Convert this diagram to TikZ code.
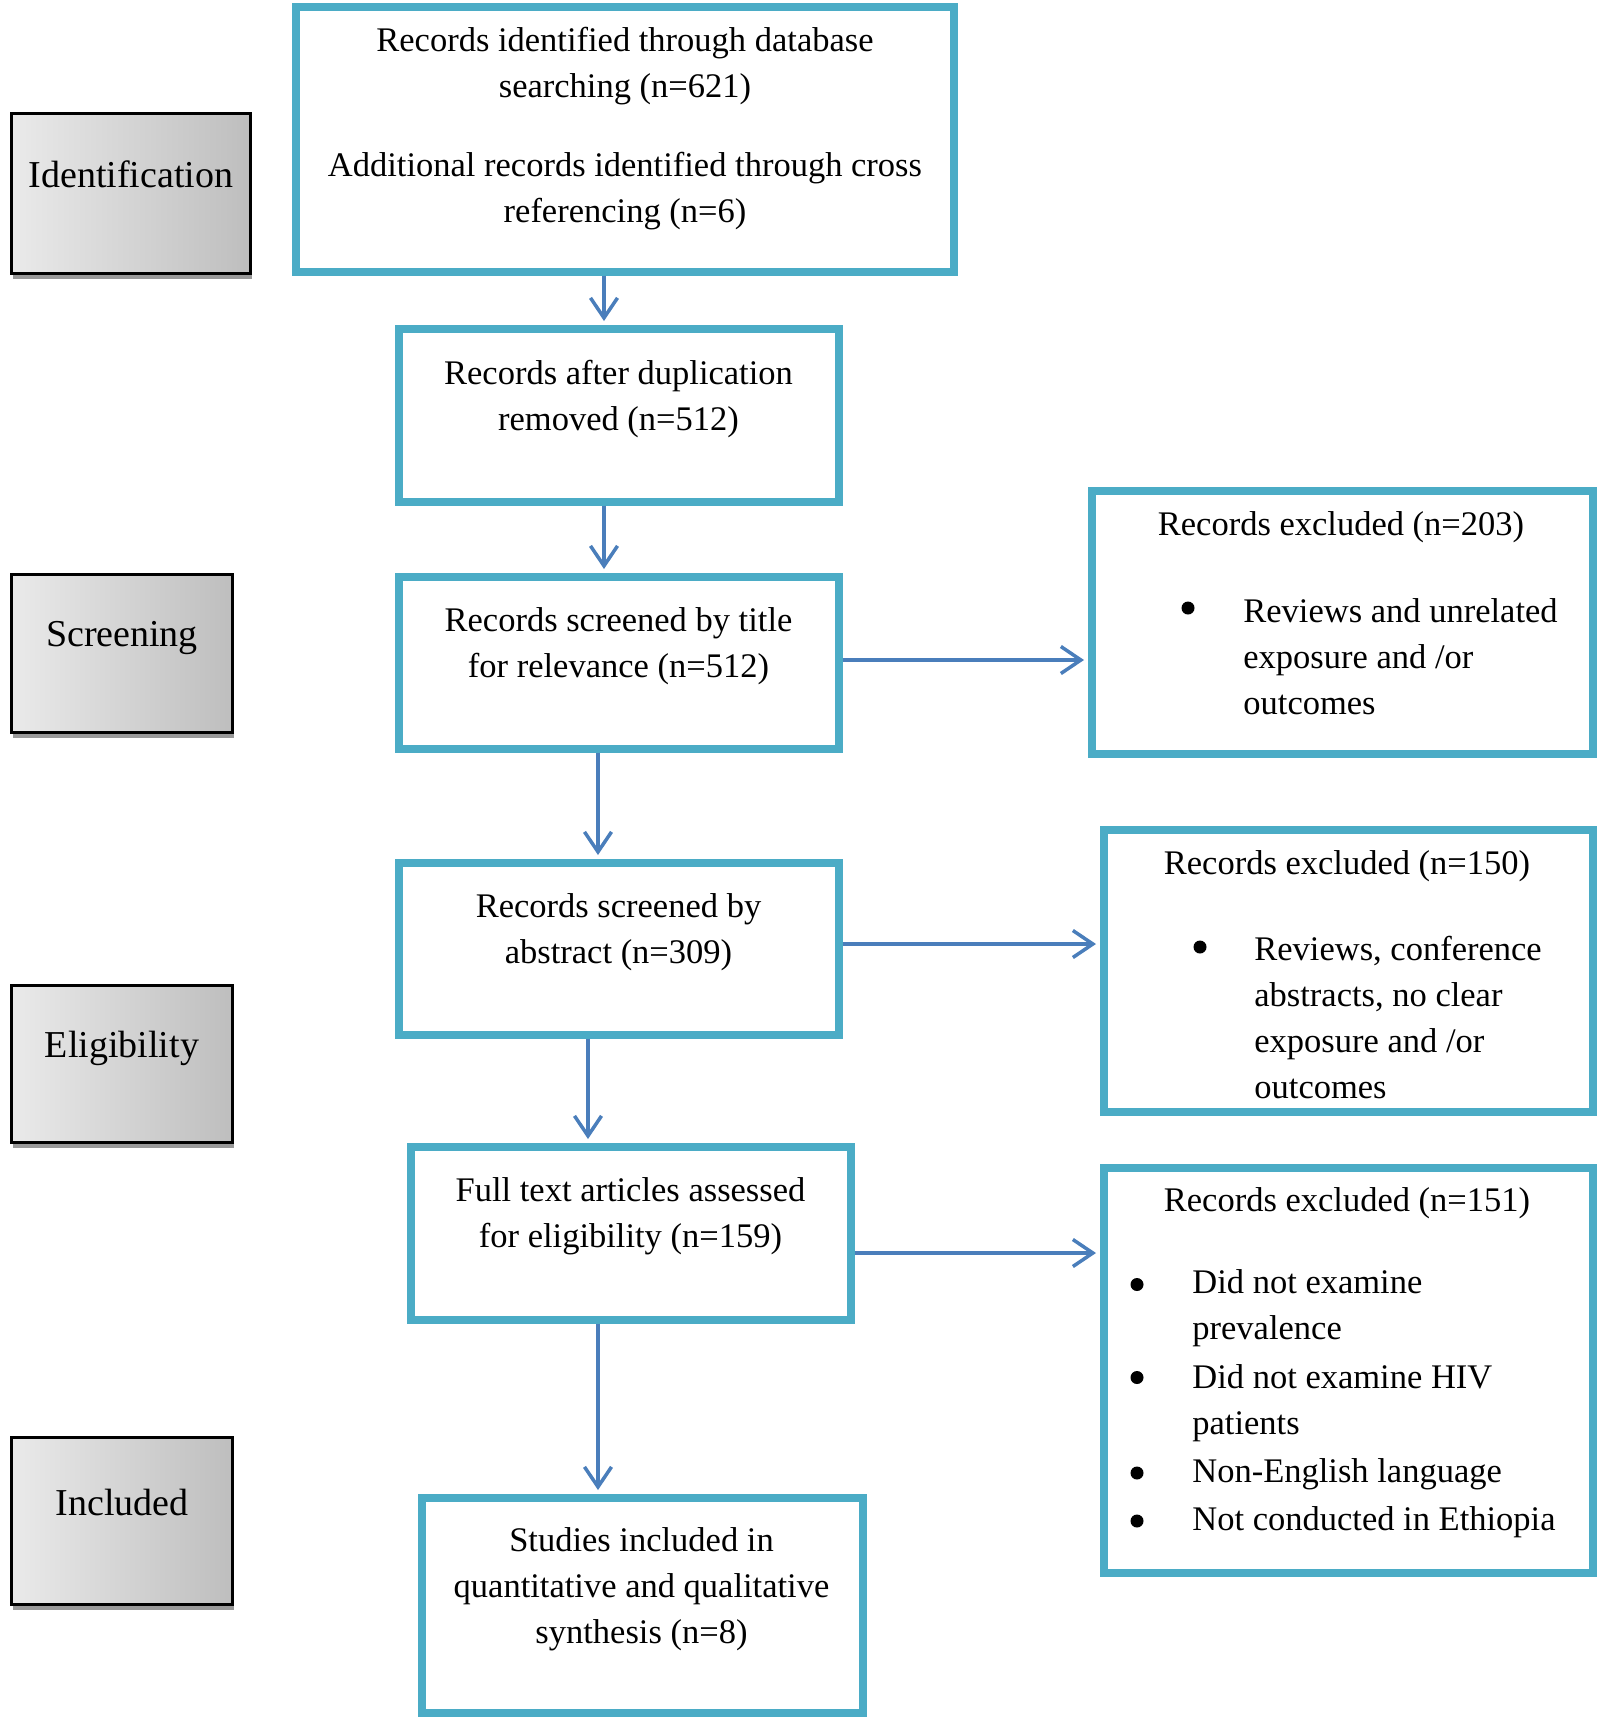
\documentclass[tikz,border=0pt]{standalone}
\usepackage{fontspec}
\setmainfont{Liberation Serif}
\usetikzlibrary{arrows.meta,shadows}
\definecolor{boxc}{RGB}{75,172,198}
\definecolor{arrc}{RGB}{74,126,187}
\definecolor{stageL}{RGB}{234,234,234}
\definecolor{stageR}{RGB}{190,190,190}
\begin{document}
\begin{tikzpicture}[x=0.5pt,y=-0.5pt,
  mainbox/.style={draw=boxc,line width=4pt,rectangle,inner sep=0pt,fill=white},
  stage/.style={draw=black,line width=1.5pt,rectangle,inner sep=0pt,
    left color=stageL,right color=stageR,
    drop shadow={shadow xshift=0.5pt,shadow yshift=-2.5pt,fill=black!40,opacity=1}},
  txt/.style={font=\fontsize{17.25}{23}\selectfont,align=center,inner sep=0pt},
  ltxt/.style={font=\fontsize{17.25}{23}\selectfont,align=left,inner sep=0pt,anchor=west},
  stxt/.style={font=\fontsize{19}{23}\selectfont,inner sep=0pt},
  bul/.style={circle,fill=black,inner sep=0pt,minimum size=6.5pt},
  arr/.style={draw=arrc,line width=1.75pt,-{Straight Barb[length=10pt,width=13.5pt]},shorten >=1.75pt}
]
\useasboundingbox (0,0) rectangle (1598,1720);

% stage boxes
\node[stage,minimum width=119.5pt,minimum height=80pt] (sid) at (131,193.5) {};
\node[stage,minimum width=110.5pt,minimum height=79pt] (ssc) at (122,653.5) {};
\node[stage,minimum width=110.5pt,minimum height=78.5pt] (sel) at (122,1064) {};
\node[stage,minimum width=110.5pt,minimum height=83.5pt] (sin) at (122,1521) {};
\node[stxt] (tid) at (131,174) {Identification};
\node[stxt] (tsc) at (122,638.5) {Screening};
\node[stxt] (tel) at (122,1048.5) {Eligibility};
\node[stxt] (tin) at (122,1502.5) {Included};

% main boxes
\node[mainbox,minimum width=329pt,minimum height=132.5pt] (top) at (624.5,139) {};
\node[mainbox,minimum width=220pt,minimum height=86.5pt] (dup) at (618.5,415) {};
\node[mainbox,minimum width=220pt,minimum height=86pt] (ttl) at (618.5,662.5) {};
\node[mainbox,minimum width=220pt,minimum height=86pt] (abs) at (618.5,948.5) {};
\node[mainbox,minimum width=220pt,minimum height=86.5pt] (ful) at (630.5,1233) {};
\node[mainbox,minimum width=220.5pt,minimum height=107.5pt] (stu) at (642,1605) {};
\node[mainbox,minimum width=250.5pt,minimum height=131.5pt] (ex1) at (1342,622) {};
\node[mainbox,minimum width=244.5pt,minimum height=141pt] (ex2) at (1348,970.5) {};
\node[mainbox,minimum width=244.5pt,minimum height=202.5pt] (ex3) at (1348,1370) {};

% texts
\node[txt] (ttop) at (625,128.5) {Records identified through database\\searching (n=621)\\[16.5pt]Additional records identified through cross\\referencing (n=6)};
\node[txt] (tdup) at (618.5,399.5) {Records after duplication\\removed (n=512)};
\node[txt] (tttl) at (618.5,646.5) {Records screened by title\\for relevance (n=512)};
\node[txt] (tabs) at (618.5,932.5) {Records screened by\\abstract (n=309)};
\node[txt] (tful) at (630.5,1216.5) {Full text articles assessed\\for eligibility (n=159)};
\node[txt] (tstu) at (641.5,1589.5) {Studies included in\\quantitative and qualitative\\synthesis (n=8)};

\node[txt] (hex1) at (1341,527.5) {Records excluded (n=203)};
\node[bul] (b11) at (1188,608) {};
\node[ltxt] (lex1) at (1243,656.5) {Reviews and unrelated\\exposure and /or\\outcomes};

\node[txt] (hex2) at (1347,866.5) {Records excluded (n=150)};
\node[bul] (b21) at (1200,947) {};
\node[ltxt] (lex2) at (1254,1018) {Reviews, conference\\abstracts, no clear\\exposure and /or\\outcomes};

\node[txt] (hex3) at (1347,1203.5) {Records excluded (n=151)};
\node[bul] (b31) at (1137,1284.5) {};
\node[bul] (b32) at (1137,1377.5) {};
\node[bul] (b33) at (1137,1473) {};
\node[bul] (b34) at (1137,1521) {};
\node[ltxt] (lex3a) at (1192,1308.5) {Did not examine\\prevalence};
\node[ltxt] (lex3b) at (1192,1403) {Did not examine HIV\\patients};
\node[ltxt] (lex3c) at (1192,1474.5) {Non-English language};
\node[ltxt] (lex3d) at (1192,1522.5) {Not conducted in Ethiopia};

% arrows
\draw[arr] (604,0 |- top.south) -- (604,0 |- dup.north);
\draw[arr] (604,0 |- dup.south) -- (604,0 |- ttl.north);
\draw[arr] (598,0 |- ttl.south) -- (598,0 |- abs.north);
\draw[arr] (588,0 |- abs.south) -- (588,0 |- ful.north);
\draw[arr] (598,0 |- ful.south) -- (598,0 |- stu.north);
\draw[arr] (ttl.east |- 0,660) -- (ex1.west |- 0,660);
\draw[arr] (abs.east |- 0,944) -- (ex2.west |- 0,944);
\draw[arr] (ful.east |- 0,1253) -- (ex3.west |- 0,1253);
\end{tikzpicture}
\end{document}
